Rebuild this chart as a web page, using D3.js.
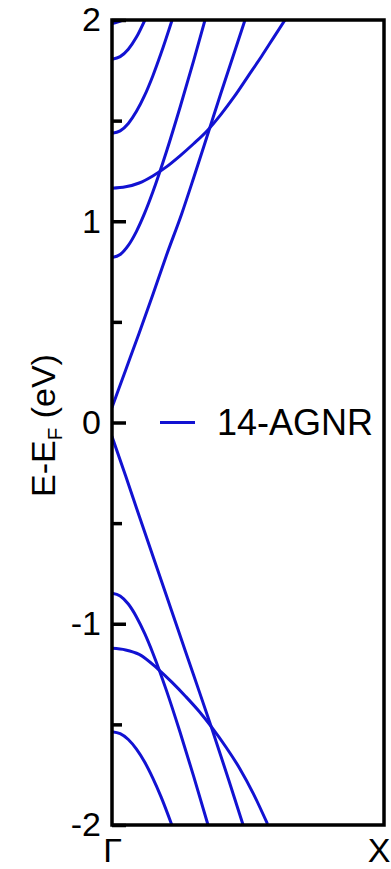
<!DOCTYPE html>
<html>
<head>
<meta charset="utf-8">
<script src="https://cdn.jsdelivr.net/npm/d3@7"></script>
<style>
  html, body { margin: 0; padding: 0; background: #fff; }
  svg { display: block; }
  text { font-family: "Liberation Sans", Arial, Helvetica, sans-serif; fill: #000; }
</style>
</head>
<body>
<svg id="chart" width="391" height="869"></svg>
<script>
// Band structure of a 14-AGNR along Γ–X; k is the fraction of the path, E in eV relative to E_F.
const kLabels = ["Γ", "X"];
const energyTicks = [-2, -1, 0, 1, 2];
const minorTicks = [-1.5, -0.5, 0.5, 1.5];
const seriesName = "14-AGNR";

// Conduction bands, [k, E]
const cb1 = [[0, 0.075], [0.05, 0.26], [0.1, 0.445], [0.15, 0.635], [0.2, 0.83], [0.257, 1.04], [0.3, 1.215], [0.349, 1.42], [0.4, 1.635], [0.489, 2.0]];
const cb2 = [[0, 0.82], [0.03, 0.835], [0.06, 0.88], [0.09, 0.95], [0.12, 1.04], [0.15, 1.145], [0.2, 1.345], [0.25, 1.565], [0.3, 1.797], [0.342, 2.0]];
const cb3 = [[0, 1.164], [0.05, 1.171], [0.1, 1.19], [0.15, 1.225], [0.2, 1.27], [0.25, 1.325], [0.3, 1.385], [0.35, 1.45], [0.4, 1.53], [0.45, 1.62], [0.5, 1.72], [0.55, 1.82], [0.6, 1.925], [0.636, 2.0]];
const cb4 = [[0, 1.437], [0.03, 1.449], [0.06, 1.486], [0.09, 1.546], [0.12, 1.625], [0.15, 1.722], [0.18, 1.833], [0.221, 2.0]];
const cb5 = [[0, 1.805], [0.03, 1.818], [0.06, 1.855], [0.09, 1.915], [0.121, 2.0]];
const cb6 = [[0, 1.983], [0.02, 1.99], [0.04, 2.0]];

// Valence bands, [k, E]
const vb1 = [[0, -0.07], [0.05, -0.265], [0.1, -0.465], [0.2, -0.86], [0.243, -1.03], [0.3, -1.255], [0.367, -1.52], [0.43, -1.78], [0.482, -2.0]];
const vb2 = [[0, -0.848], [0.03, -0.862], [0.06, -0.902], [0.09, -0.966], [0.12, -1.048], [0.15, -1.145], [0.2, -1.331], [0.25, -1.538], [0.3, -1.757], [0.353, -2.0]];
const vb3 = [[0, -1.122], [0.05, -1.13], [0.1, -1.152], [0.169, -1.225], [0.22, -1.29], [0.27, -1.36], [0.32, -1.435], [0.367, -1.515], [0.42, -1.615], [0.47, -1.72], [0.52, -1.845], [0.57, -1.99]];
const vb4 = [[0, -1.536], [0.03, -1.546], [0.06, -1.575], [0.09, -1.623], [0.12, -1.687], [0.15, -1.767], [0.18, -1.859], [0.22, -2.0]];

const bands = [cb1, cb2, cb3, cb4, cb5, cb6, vb1, vb2, vb3, vb4];

const margin = { left: 112, right: 7, top: 20, bottom: 44 };
const W = 391, H = 869;
const svg = d3.select("#chart");

const x = d3.scaleLinear().domain([0, 1]).range([margin.left, W - margin.right]);
const y = d3.scaleLinear().domain([-2, 2]).range([H - margin.bottom, margin.top]);

const bandColor = "#1212d2";
const fontSize = 34;

svg.append("defs").append("clipPath").attr("id", "plot-clip")
  .append("rect")
  .attr("x", x(0)).attr("y", y(2))
  .attr("width", x(1) - x(0)).attr("height", y(-2) - y(2));

const line = d3.line()
  .x(d => x(d[0]))
  .y(d => y(d[1]))
  .curve(d3.curveMonotoneX);

svg.append("g")
  .attr("clip-path", "url(#plot-clip)")
  .selectAll("path")
  .data(bands)
  .join("path")
  .attr("d", line)
  .attr("fill", "none")
  .attr("stroke", bandColor)
  .attr("stroke-width", 3)
  .attr("stroke-linecap", "round");

// Left axis: major ticks with labels, pointing inward
const yAxis = d3.axisLeft(y)
  .tickValues(energyTicks)
  .tickFormat(d => String(d))
  .tickSizeInner(-14)
  .tickSizeOuter(0)
  .tickPadding(11);

const gy = svg.append("g")
  .attr("transform", `translate(${x(0)},0)`)
  .call(yAxis);
gy.select(".domain").remove();
gy.selectAll(".tick line").attr("stroke", "#000").attr("stroke-width", 3.5);
gy.selectAll(".tick text")
  .attr("font-size", fontSize)
  .attr("font-family", "Liberation Sans, Arial, sans-serif")
  .attr("fill", "#000");

// Minor ticks
const yMinor = d3.axisLeft(y)
  .tickValues(minorTicks)
  .tickFormat("")
  .tickSizeInner(-10)
  .tickSizeOuter(0);
const gym = svg.append("g")
  .attr("transform", `translate(${x(0)},0)`)
  .call(yMinor);
gym.select(".domain").remove();
gym.selectAll(".tick line").attr("stroke", "#000").attr("stroke-width", 3.5);

// Bottom axis: high-symmetry points
const xAxis = d3.axisBottom(x)
  .tickValues([0, 1])
  .tickFormat((d, i) => kLabels[i])
  .tickSize(0)
  .tickPadding(13);
const gx = svg.append("g")
  .attr("transform", `translate(0,${y(-2)})`)
  .call(xAxis);
gx.select(".domain").remove();
gx.selectAll(".tick text")
  .attr("font-size", fontSize)
  .attr("font-family", "Liberation Sans, Arial, sans-serif")
  .attr("fill", "#000");
// keep the X label inside the page edge
gx.selectAll(".tick text").filter(d => d === 1)
  .attr("text-anchor", "end")
  .attr("x", W - 1 - x(1));

// Frame
svg.append("rect")
  .attr("x", x(0)).attr("y", y(2))
  .attr("width", x(1) - x(0)).attr("height", y(-2) - y(2))
  .attr("fill", "none")
  .attr("stroke", "#000")
  .attr("stroke-width", 3.5);

// Y axis title
const yTitle = svg.append("text")
  .attr("transform", `translate(55,${y(0) + 3}) rotate(-90)`)
  .attr("text-anchor", "middle")
  .attr("font-size", fontSize);
yTitle.append("tspan").text("E-E");
yTitle.append("tspan").attr("font-size", fontSize * 0.6).attr("dy", 7).text("F");
yTitle.append("tspan").attr("dy", -7).text(" (eV)");

// Legend
const legend = svg.append("g").attr("transform", `translate(160,${y(0)})`);
legend.append("line")
  .attr("x1", 0).attr("x2", 35).attr("y1", 0).attr("y2", 0)
  .attr("stroke", bandColor).attr("stroke-width", 3);
legend.append("text")
  .attr("x", 57).attr("y", 0).attr("dy", "0.36em")
  .attr("font-size", 36)
  .text(seriesName);
</script>
</body>
</html>
